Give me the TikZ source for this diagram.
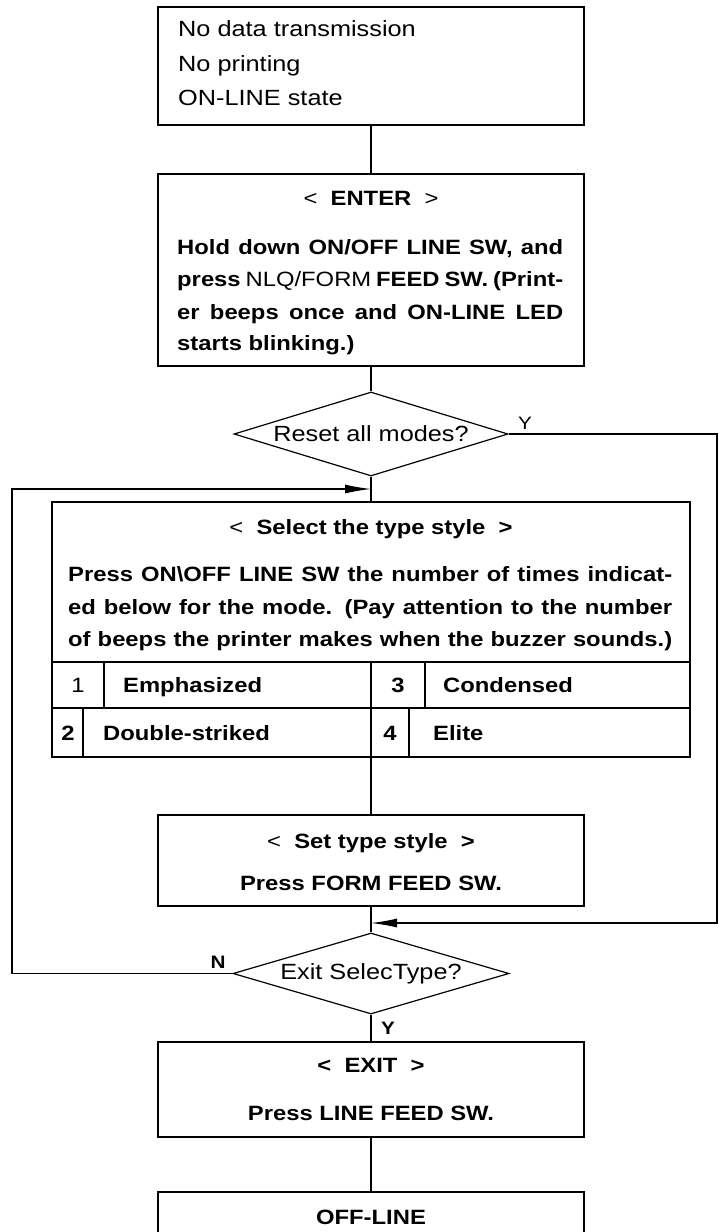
\documentclass[tikz,border=0pt]{standalone}
\usepackage{fontspec}
\setmainfont{Liberation Sans}[FakeStretch=1.15]
\usepackage{tikz}
\usetikzlibrary{shapes.geometric, arrows.meta, positioning}
\newcommand{\stepfont}{\fontsize{20.7}{24}\selectfont\bfseries}
\newcommand{\plainfont}{\fontsize{22}{26}\selectfont\mdseries}
\newcommand{\labelfont}{\fontsize{18}{20}\selectfont\bfseries}
\newcommand{\thin}[1]{{\mdseries #1}}
\newcommand{\spread}[2]{\makebox[#1][s]{#2}}

\begin{document}
\begin{tikzpicture}[
        x=1pt, y=-1pt,
        box/.style = {draw, rectangle, line width=1.2pt, inner sep=0pt},
        decision/.style = {draw, diamond, aspect=3.3, inner sep=0pt, line width=1.2pt, font=\plainfont},
        txt/.style = {inner sep=0pt, font=\stepfont},
        plaintxt/.style = {inner sep=0pt, font=\plainfont},
        tag/.style = {inner sep=0pt, font=\labelfont},
        link/.style = {draw, line width=1.2pt},
        flow/.style = {link, -{Latex[length=26pt, width=9pt]}},
        rule/.style = {line width=1.2pt}
    ]
        \useasboundingbox (0,0) rectangle (719,1232);
        \clip (0,0) rectangle (719,1232);

        % === Boxes ===
        \node (idle) [box, minimum width=426pt, minimum height=118pt] at (371,66) {};
        \node (enter) [box, minimum width=426pt, minimum height=192pt] at (371,270) {};
        \node (reset) [decision, minimum width=274pt, minimum height=84pt] at (371,434) {Reset all modes?};
        \node (select) [box, minimum width=638pt, minimum height=255pt] at (371,629.5) {};
        \node (setstyle) [box, minimum width=426pt, minimum height=91pt] at (371,860.5) {};
        \node (exitq) [decision, minimum width=276pt, minimum height=81pt] at (371,973.5) {Exit SelecType?};
        \node (exit) [box, minimum width=426pt, minimum height=95pt] at (371,1089.5) {};
        \node (offline) [box, minimum width=426pt, minimum height=100pt] at (371,1242) {};

        % === Texts ===
        \node (idle1) [plaintxt, anchor=base west] at (178,36) {No data transmission};
        \node (idle2) [plaintxt, anchor=base west] at (178,71) {No printing};
        \node (idle3) [plaintxt, anchor=base west] at (178,105) {ON-LINE state};

        \node (entertitle) [txt, anchor=base] at (371,205.5) {\thin{<}\ \ ENTER\ \ \thin{>}};
        \node (enter1) [txt, anchor=base west] at (177,254.5) {\spread{386pt}{Hold down ON/OFF LINE SW, and}};
        \node (enter2) [txt, anchor=base west] at (177,286.5) {\spread{386pt}{press \thin{NLQ/FORM} FEED SW. (Print-}};
        \node (enter3) [txt, anchor=base west] at (177,319.5) {\spread{386pt}{er beeps once and ON-LINE LED}};
        \node (enter4) [txt, anchor=base west] at (177,350.5) {starts blinking.)};

        \node (selecttitle) [txt, anchor=base] at (371,534.5) {\thin{<}\ \ Select the type style \ >};
        \node (select1) [txt, anchor=base west] at (68,581) {\spread{604pt}{Press ON\textbackslash OFF LINE SW the number of times indicat-}};
        \node (select2) [txt, anchor=base west] at (68,614) {\spread{604pt}{ed below for the mode. (Pay attention to the number}};
        \node (select3) [txt, anchor=base west] at (68,646) {\spread{604pt}{of beeps the printer makes when the buzzer sounds.)}};

        % table of type styles
        \draw[rule] (52,662) -- (690,662) (52,708) -- (690,708);
        \draw[rule] (104,662) -- (104,708) (371,662) -- (371,708) (425,662) -- (425,708);
        \draw[rule] (83,708) -- (83,757) (371,708) -- (371,757) (409,708) -- (409,757);
        \node (num1) [txt, anchor=base] at (78,692) {\thin{1}};
        \node (emph) [txt, anchor=base west] at (123,692) {Emphasized};
        \node (num3) [txt, anchor=base] at (398,692) {3};
        \node (cond) [txt, anchor=base west] at (443,692) {Condensed};
        \node (num2) [txt, anchor=base] at (68,740) {2};
        \node (dbl) [txt, anchor=base west] at (103,740) {Double-striked};
        \node (num4) [txt, anchor=base] at (390,740) {4};
        \node (elite) [txt, anchor=base west] at (433,740) {Elite};

        \node (settitle) [txt, anchor=base] at (371,848) {\thin{<}\ \ Set type style \ >};
        \node (set1) [txt, anchor=base] at (371,890) {Press FORM FEED SW.};

        \node (exittitle) [txt, anchor=base] at (371,1072) {<\ \ EXIT\ \ >};
        \node (exit1) [txt, anchor=base] at (371,1120) {Press LINE FEED SW.};

        \node (offline1) [txt, anchor=base] at (371,1224) {OFF-LINE};

        % === Arrows ===
        \draw [link] (idle) -- (enter);
        \draw [link] (enter) -- (reset);
        \draw [link] (reset) -- (select);
        \draw [link] (select) -- (setstyle);
        \draw [link] (setstyle) -- (exitq);
        \draw [link] (exitq) -- (exit);
        \draw [link] (exit) -- (offline);

        % Y: skip the selection
        \coordinate (yturn) at (717,434);
        \coordinate (yjoin) at (371,923);
        \draw [flow] (reset.east) -- (yturn) |- (yjoin);
        \node (resety) [tag, font=\fontsize{18}{20}\selectfont\mdseries] at (525,423) {Y};

        % N: back to the selection
        \coordinate (nturn) at (12,489);
        \coordinate (njoin) at (371,489);
        \draw [flow] (exitq.west) -| (nturn) -- (njoin);
        \node (exitn) [tag] at (218,962) {N};
        \node (exity) [tag] at (388,1028) {Y};

    \end{tikzpicture}
\end{document}
